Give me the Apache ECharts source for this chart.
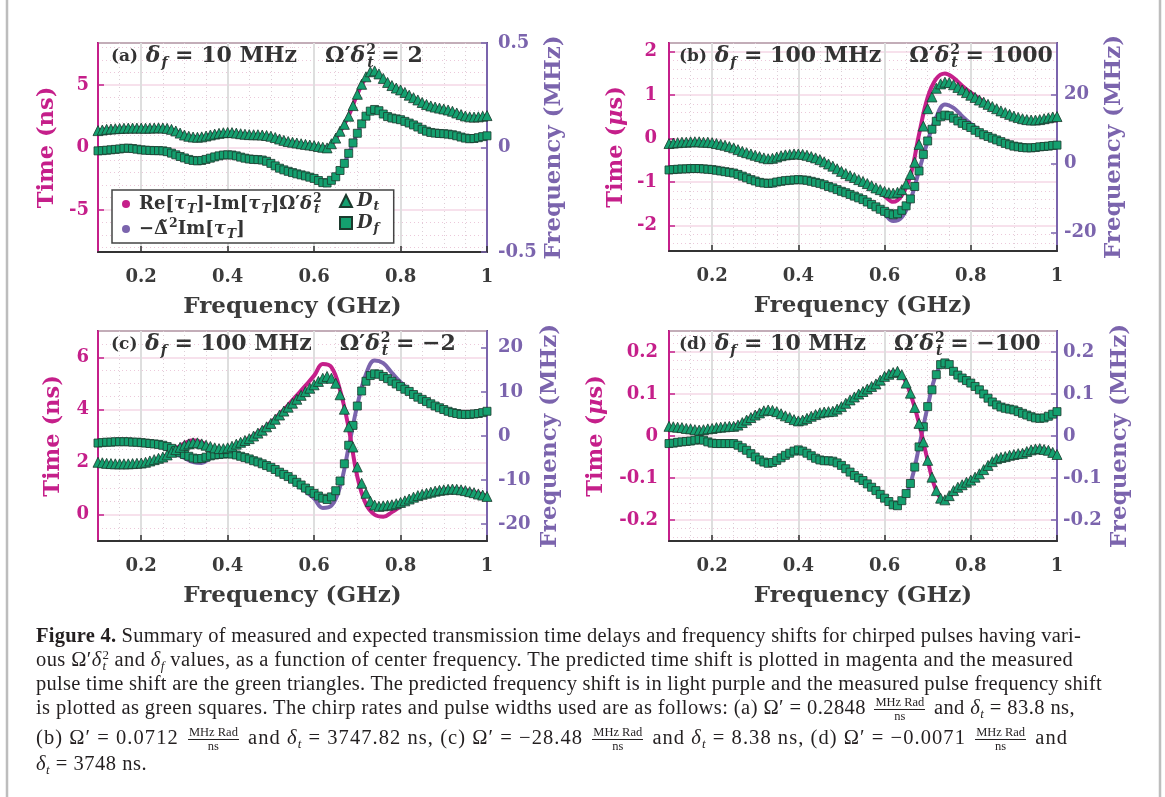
<!DOCTYPE html>
<html><head><meta charset="utf-8">
<script src="https://cdn.jsdelivr.net/npm/echarts@6/dist/echarts.min.js"></script>
<style>
html,body{margin:0;padding:0;background:#fff;}
#wrap{position:relative;width:1165px;height:797px;overflow:hidden;}
#chart{position:absolute;left:0;top:0;width:1165px;height:797px;}
#cap{position:absolute;left:0;top:0;width:1165px;font-family:'Liberation Serif',serif;font-size:20.5px;color:#231f20;}
.ln{position:absolute;left:36px;white-space:nowrap;line-height:22px;}
.frac{display:inline-block;vertical-align:middle;text-align:center;font-size:12.5px;line-height:13px;margin:0 3px;word-spacing:0;letter-spacing:0;}
.frac span{display:block;padding:0 1px;}
.frac .n{border-bottom:1px solid #231f20;}
.ss{display:inline-flex;flex-direction:column;vertical-align:7px;font-size:13px;line-height:11px;margin-left:1px;letter-spacing:0;}
sub{font-size:13px;line-height:0;vertical-align:-4px;}
</style></head>
<body>
<div id="wrap">
<div id="chart"></div>
<div id="cap">
<div class="ln" data-w="1045" style="top:624px"><b>Figure 4.</b> Summary of measured and expected transmission time delays and frequency shifts for chirped pulses having vari-</div>
<div class="ln" data-w="1037" style="top:648px">ous Ω′<i>δ</i><span class="ss"><span>2</span><span><i>t</i></span></span> and <i>δ</i><sub><i>f</i></sub> values, as a function of center frequency. The predicted time shift is plotted in magenta and the measured</div>
<div class="ln" data-w="1066" style="top:672px">pulse time shift are the green triangles. The predicted frequency shift is in light purple and the measured pulse frequency shift</div>
<div class="ln" data-w="1039" style="top:696px">is plotted as green squares. The chirp rates and pulse widths used are as follows: (a) Ω′ = 0.2848 <span class="frac"><span class="n">MHz Rad</span><span class="d">ns</span></span> and <i>δ</i><sub><i>t</i></sub> = 83.8 ns,</div>
<div class="ln" data-w="1032" style="top:726px">(b) Ω′ = 0.0712 <span class="frac"><span class="n">MHz Rad</span><span class="d">ns</span></span> and <i>δ</i><sub><i>t</i></sub> = 3747.82 ns, (c) Ω′ = −28.48 <span class="frac"><span class="n">MHz Rad</span><span class="d">ns</span></span> and <i>δ</i><sub><i>t</i></sub> = 8.38 ns, (d) Ω′ = −0.0071 <span class="frac"><span class="n">MHz Rad</span><span class="d">ns</span></span> and</div>
<div class="ln" data-w="111" style="top:752px"><i>δ</i><sub><i>t</i></sub> = 3748 ns.</div>
</div>
</div>
<script>
// ---------- data ----------
const FREQ_MARK = [0.10,0.11,0.12,0.13,0.14,0.15,0.16,0.17,0.18,0.19,
0.20,0.21,0.22,0.23,0.24,0.25,0.26,0.27,0.28,0.29,
0.30,0.31,0.32,0.33,0.34,0.35,0.36,0.37,0.38,0.39,
0.40,0.41,0.42,0.43,0.44,0.45,0.46,0.47,0.48,0.49,
0.50,0.51,0.52,0.53,0.54,0.55,0.56,0.57,0.58,0.59,
0.60,0.61,0.62,0.63,0.64,0.65,0.66,0.67,0.68,0.69,
0.70,0.71,0.72,0.73,0.74,0.75,0.76,0.77,0.78,0.79,
0.80,0.81,0.82,0.83,0.84,0.85,0.86,0.87,0.88,0.89,
0.90,0.91,0.92,0.93,0.94,0.95,0.96,0.97,0.98,0.99,1.00];
const FREQ_LINE = [0.10,0.12,0.14,0.16,0.18,0.20,0.22,0.24,0.26,0.28,
0.30,0.32,0.34,0.36,0.38,0.40,0.42,0.44,0.46,0.48,
0.50,0.52,0.54,0.56,0.58,0.60,0.62,0.64,0.66,0.68,
0.70,0.72,0.74,0.76,0.78,0.80,0.82,0.84,0.86,0.88,
0.90,0.92,0.94,0.96,0.98,1.00];

// panel (a)
const A_TRI = [1.35,1.40,1.45,1.48,1.50,1.52,1.54,1.55,1.55,1.55,
1.55,1.54,1.55,1.56,1.57,1.56,1.53,1.45,1.32,1.15,
1.00,0.90,0.84,0.82,0.85,0.92,1.00,1.07,1.13,1.18,
1.20,1.19,1.15,1.10,1.06,1.03,1.02,1.02,1.00,0.96,
0.90,0.80,0.68,0.57,0.48,0.42,0.36,0.30,0.25,0.20,
0.15,0.08,0.02,-0.03,0.30,0.75,1.30,1.85,2.50,3.35,
4.25,5.05,5.65,6.05,6.12,5.88,5.52,5.20,4.95,4.75,
4.60,4.40,4.18,3.98,3.80,3.60,3.44,3.32,3.23,3.15,
3.08,3.00,2.90,2.76,2.63,2.52,2.45,2.43,2.45,2.50,2.55];
const A_SQR = [-0.016,-0.015,-0.013,-0.011,-0.009,-0.007,-0.004,-0.003,-0.005,-0.008,
-0.011,-0.013,-0.014,-0.015,-0.015,-0.016,-0.020,-0.027,-0.035,-0.043,
-0.050,-0.057,-0.062,-0.064,-0.062,-0.057,-0.051,-0.045,-0.040,-0.036,
-0.035,-0.036,-0.040,-0.046,-0.051,-0.055,-0.057,-0.058,-0.060,-0.066,
-0.076,-0.088,-0.099,-0.107,-0.114,-0.120,-0.126,-0.131,-0.136,-0.142,
-0.148,-0.158,-0.168,-0.170,-0.157,-0.140,-0.110,-0.076,-0.028,0.022,
0.068,0.113,0.150,0.174,0.182,0.176,0.160,0.148,0.141,0.137,
0.133,0.125,0.117,0.108,0.098,0.087,0.078,0.072,0.069,0.067,
0.066,0.064,0.061,0.056,0.050,0.045,0.042,0.043,0.047,0.052,0.056];
const A_MAG = [1.35,1.45,1.50,1.53,1.54,1.54,1.54,1.55,1.50,1.30,
1.00,0.83,0.85,1.00,1.12,1.18,1.14,1.05,1.00,0.98,
0.88,0.68,0.48,0.36,0.25,0.14,0.00,0.25,1.25,2.55,
4.25,5.55,5.95,5.45,4.90,4.55,4.15,3.75,3.40,3.20,
3.05,2.85,2.60,2.42,2.42,2.52];
const A_PUR = [-0.016,-0.013,-0.009,-0.005,-0.006,-0.011,-0.014,-0.015,-0.020,-0.035,
-0.050,-0.062,-0.062,-0.051,-0.040,-0.035,-0.040,-0.050,-0.057,-0.061,
-0.076,-0.099,-0.114,-0.126,-0.136,-0.150,-0.170,-0.160,-0.112,-0.030,
0.068,0.150,0.182,0.160,0.141,0.132,0.116,0.097,0.078,0.069,
0.066,0.061,0.050,0.042,0.046,0.055];

// panel (b)
const B_TRI = [-0.11,-0.10,-0.09,-0.08,-0.08,-0.07,-0.07,-0.07,-0.08,-0.08,
-0.09,-0.11,-0.13,-0.15,-0.18,-0.21,-0.25,-0.29,-0.32,-0.35,
-0.38,-0.41,-0.44,-0.46,-0.45,-0.42,-0.39,-0.37,-0.36,-0.35,
-0.35,-0.36,-0.38,-0.41,-0.44,-0.48,-0.53,-0.58,-0.63,-0.69,
-0.75,-0.80,-0.85,-0.89,-0.94,-0.98,-1.03,-1.08,-1.13,-1.17,
-1.21,-1.24,-1.25,-1.23,-1.17,-1.04,-0.82,-0.54,-0.13,0.29,
0.69,0.96,1.16,1.26,1.30,1.29,1.24,1.18,1.12,1.06,
1.00,0.95,0.89,0.84,0.79,0.74,0.69,0.64,0.60,0.56,
0.52,0.49,0.46,0.44,0.43,0.43,0.44,0.46,0.48,0.50,0.51];
const B_SQR = [-1.8,-1.7,-1.6,-1.5,-1.5,-1.4,-1.4,-1.4,-1.5,-1.6,
-1.7,-1.9,-2.1,-2.3,-2.5,-2.7,-3.1,-3.6,-4.1,-4.6,
-5.0,-5.4,-5.6,-5.7,-5.6,-5.3,-5.1,-4.9,-4.8,-4.7,
-4.6,-4.7,-4.8,-5.1,-5.4,-5.7,-6.1,-6.6,-7.0,-7.5,
-8.0,-8.4,-8.9,-9.4,-9.9,-10.4,-11.1,-11.8,-12.5,-13.2,
-13.8,-14.4,-14.8,-14.5,-13.5,-12.2,-10.2,-6.6,-2.1,2.7,
6.6,10.0,12.3,13.6,14.1,13.9,13.2,12.4,11.7,11.1,
10.5,9.7,9.0,8.4,7.9,7.4,6.9,6.4,5.9,5.5,
5.1,4.9,4.7,4.6,4.6,4.7,4.9,5.0,5.1,5.3,5.4];
const B_MAG = [-0.11,-0.09,-0.08,-0.07,-0.08,-0.10,-0.13,-0.19,-0.26,-0.34,
-0.41,-0.48,-0.50,-0.42,-0.37,-0.35,-0.38,-0.44,-0.53,-0.64,
-0.76,-0.86,-0.96,-1.06,-1.18,-1.32,-1.45,-1.30,-0.85,0.10,
0.95,1.38,1.50,1.40,1.22,1.06,0.92,0.79,0.67,0.56,
0.47,0.41,0.38,0.38,0.40,0.43];
const B_PUR = [-1.8,-1.6,-1.5,-1.4,-1.5,-1.7,-2.1,-2.6,-3.2,-4.2,
-5.1,-5.9,-6.3,-5.3,-4.8,-4.6,-4.8,-5.4,-6.1,-7.0,
-8.0,-9.0,-10.0,-11.3,-12.8,-14.6,-16.6,-15.5,-10.5,-2.0,
6.5,13.5,17.2,16.2,13.8,11.6,9.7,8.1,6.8,5.8,
4.9,4.4,4.2,4.3,4.7,5.1];

// panel (c)
const C_TRI = [2.00,1.98,1.96,1.95,1.94,1.94,1.94,1.94,1.95,1.96,
1.97,2.00,2.05,2.10,2.15,2.20,2.28,2.38,2.48,2.57,
2.65,2.70,2.74,2.74,2.70,2.65,2.60,2.55,2.52,2.52,
2.55,2.61,2.69,2.76,2.83,2.90,3.00,3.11,3.22,3.35,
3.48,3.64,3.80,3.95,4.10,4.25,4.40,4.55,4.69,4.82,
4.95,5.08,5.20,5.27,5.20,5.01,4.57,4.02,3.35,2.58,
1.82,1.20,0.82,0.51,0.37,0.32,0.34,0.36,0.38,0.42,
0.47,0.53,0.60,0.67,0.73,0.78,0.82,0.86,0.90,0.93,
0.95,0.97,0.98,0.97,0.95,0.92,0.88,0.84,0.79,0.75,0.70];
const C_SQR = [-1.6,-1.5,-1.4,-1.4,-1.3,-1.3,-1.3,-1.3,-1.4,-1.4,
-1.5,-1.6,-1.7,-1.8,-1.9,-2.1,-2.4,-2.8,-3.3,-3.8,
-4.2,-4.6,-5.0,-5.2,-5.1,-4.8,-4.5,-4.3,-4.2,-4.1,
-4.0,-4.1,-4.3,-4.6,-4.9,-5.2,-5.6,-5.9,-6.3,-6.7,
-7.1,-7.6,-8.2,-8.7,-9.2,-9.8,-10.5,-11.1,-11.8,-12.4,
-13.0,-13.6,-14.1,-14.4,-13.8,-12.4,-10.2,-6.3,-2.1,2.4,
6.8,10.2,12.4,13.7,14.1,14.0,13.5,13.0,12.4,11.8,
11.2,10.6,10.1,9.4,8.8,8.3,7.8,7.3,6.8,6.4,
6.0,5.6,5.3,5.1,4.9,4.9,4.9,5.0,5.1,5.3,5.6];
const C_MAG = [1.98,1.93,1.89,1.87,1.87,1.90,1.98,2.10,2.28,2.52,
2.72,2.84,2.76,2.58,2.48,2.52,2.66,2.82,3.02,3.25,
3.52,3.84,4.18,4.55,4.92,5.30,5.74,5.62,4.75,3.30,
1.45,0.40,0.00,-0.08,0.10,0.32,0.52,0.68,0.80,0.90,
0.96,0.99,0.97,0.91,0.82,0.72];
const C_PUR = [-1.6,-1.4,-1.3,-1.3,-1.4,-1.6,-1.9,-2.3,-3.0,-4.0,
-5.0,-5.9,-6.1,-5.0,-4.4,-4.1,-4.3,-5.0,-5.7,-6.5,
-7.4,-8.5,-9.7,-11.0,-12.5,-14.2,-16.3,-15.8,-11.5,-2.5,
7.0,14.0,17.1,16.5,14.3,12.2,10.4,8.9,7.6,6.5,
5.6,5.0,4.6,4.5,4.7,5.2];

// panel (d)
const D_TRI = [0.023,0.022,0.021,0.020,0.018,0.017,0.015,0.014,0.015,0.017,
0.018,0.020,0.021,0.022,0.023,0.023,0.026,0.032,0.038,0.044,
0.050,0.055,0.060,0.062,0.061,0.058,0.053,0.048,0.044,0.039,
0.036,0.038,0.042,0.047,0.051,0.055,0.057,0.058,0.059,0.064,
0.070,0.078,0.086,0.093,0.100,0.106,0.112,0.118,0.124,0.133,
0.142,0.147,0.151,0.154,0.146,0.126,0.102,0.068,0.030,-0.014,
-0.058,-0.098,-0.130,-0.148,-0.152,-0.142,-0.130,-0.122,-0.116,-0.110,
-0.105,-0.098,-0.090,-0.080,-0.070,-0.061,-0.054,-0.051,-0.049,-0.046,
-0.044,-0.042,-0.041,-0.037,-0.033,-0.031,-0.030,-0.032,-0.034,-0.039,-0.044];
const D_SQR = [-0.018,-0.017,-0.015,-0.014,-0.013,-0.012,-0.010,-0.008,-0.010,-0.014,
-0.017,-0.018,-0.018,-0.018,-0.018,-0.018,-0.022,-0.028,-0.034,-0.042,
-0.050,-0.057,-0.062,-0.065,-0.063,-0.058,-0.052,-0.046,-0.041,-0.036,
-0.033,-0.036,-0.041,-0.047,-0.053,-0.057,-0.059,-0.059,-0.060,-0.064,
-0.070,-0.078,-0.086,-0.094,-0.100,-0.106,-0.114,-0.122,-0.130,-0.139,
-0.148,-0.156,-0.164,-0.166,-0.154,-0.137,-0.113,-0.074,-0.026,0.022,
0.070,0.110,0.146,0.170,0.174,0.170,0.154,0.145,0.138,0.132,
0.126,0.118,0.110,0.100,0.090,0.081,0.074,0.069,0.066,0.064,
0.062,0.058,0.054,0.050,0.046,0.043,0.042,0.043,0.047,0.052,0.058];
const D_MAG = [0.020,0.016,0.012,0.010,0.011,0.015,0.019,0.022,0.027,0.038,
0.050,0.060,0.060,0.052,0.043,0.037,0.042,0.050,0.056,0.059,
0.068,0.085,0.099,0.111,0.124,0.140,0.153,0.145,0.100,0.030,
-0.058,-0.130,-0.154,-0.135,-0.120,-0.108,-0.092,-0.072,-0.056,-0.049,
-0.044,-0.040,-0.033,-0.030,-0.034,-0.044];
const D_PUR = [-0.018,-0.015,-0.013,-0.010,-0.010,-0.016,-0.018,-0.018,-0.022,-0.034,
-0.050,-0.062,-0.063,-0.052,-0.041,-0.034,-0.041,-0.053,-0.059,-0.061,
-0.072,-0.088,-0.102,-0.116,-0.132,-0.150,-0.165,-0.156,-0.113,-0.026,
0.070,0.148,0.176,0.158,0.138,0.125,0.109,0.090,0.074,0.066,
0.062,0.054,0.046,0.042,0.046,0.056];

// axis ranges and labels
const LEFT_RANGE  = [[-8.35, 8.35], [-2.58, 2.2], [-1, 7], [-0.25, 0.25]];
const RIGHT_RANGE = [[-0.5, 0.5], [-25.3, 35], [-23.8, 23.8], [-0.25, 0.25]];
const LEFT_NAMES  = ['Time (ns)', 'Time ({i|μ}s)', 'Time (ns)', 'Time ({i|μ}s)'];
const RIGHT_NAME  = 'Frequency (MHz)';
const X_NAME      = 'Frequency (GHz)';
const PANEL_TITLES = [
  '{p|(a)} {it|δ}{sub|f}{m| = 10 MHz}{gap| }{m|Ω′}{it|δ}{sup|2}{sub|t}{m| = 2}',
  '{p|(b)} {it|δ}{sub|f}{m| = 100 MHz}{gap| }{m|Ω′}{it|δ}{sup|2}{sub|t}{m| = 1000}',
  '{p|(c)} {it|δ}{sub|f}{m| = 100 MHz}{gap| }{m|Ω′}{it|δ}{sup|2}{sub|t}{m| = −2}',
  '{p|(d)} {it|δ}{sub|f}{m| = 10 MHz}{gap| }{m|Ω′}{it|δ}{sup|2}{sub|t}{m| = −100}'
];
const LEGEND_TEXT = {
  Re_0: '{m|Re[}{it|τ}{sub|T}{m|]-Im[}{it|τ}{sub|T}{m|]Ω′}{it|δ}{sup|2}{sub|t}',
  Im_0: '{m|−Δ̃}{sup2|2}{m|Im[}{it|τ}{sub|T}{m|]}',
  Dt_0: '{it|D}{sub|t}',
  Df_0: '{it|D}{sub|f}'
};
const PANELS = [
  {mag: A_MAG, pur: A_PUR, tri: A_TRI, sqr: A_SQR},
  {mag: B_MAG, pur: B_PUR, tri: B_TRI, sqr: B_SQR},
  {mag: C_MAG, pur: C_PUR, tri: C_TRI, sqr: C_SQR},
  {mag: D_MAG, pur: D_PUR, tri: D_TRI, sqr: D_SQR}
];

// ---------- layout / style ----------
const FONT = 'DejaVu Serif';
const MAG = '#c51f8a', PUR = '#7b64ad', GRN = '#14a06f', EDGE = '#1c3a2d', INK = '#3b3b3b';
const GRIDS = [
  {left: 98,  top: 43,  width: 389, height: 209},
  {left: 669, top: 43,  width: 388, height: 208},
  {left: 98,  top: 331, width: 389, height: 210},
  {left: 669, top: 331, width: 388, height: 210}
];
const LEFT_SPLIT = [3, 5, 4, 5], LEFT_MINOR = [5, 5, 4, 5], RIGHT_SPLIT = [2, 3, 4, 5];
const LEFT_GAP = [39, 41, 33, 61], RIGHT_GAP = [56, 46, 52, 52];
const LEFT_MARGIN = [9, 12, 9, 11], RIGHT_MARGIN = [11, 7, 11, 6];
const TITLE_DX = [13, 10, 13, 10];

const bold = {fontFamily: FONT, fontWeight: 'bold'};

function xAxisFor(i) {
  return {
    type: 'value', gridIndex: i, min: 0.1, max: 1, splitNumber: 5,
    axisLine: {show: true, onZero: false, lineStyle: {color: '#333', width: 2}},
    axisTick: {show: true, inside: true, length: 6, lineStyle: {color: '#333', width: 1.5}},
    axisLabel: Object.assign({color: INK, fontSize: 18, margin: 16, showMinLabel: false}, bold),
    splitLine: {show: true, lineStyle: {color: '#dedede', width: 2}},
    minorTick: {show: false, splitNumber: 4},
    minorSplitLine: {show: true, lineStyle: {color: '#dccfd6', width: 1, type: [1, 3]}},
    name: X_NAME, nameLocation: 'middle', nameGap: 44,
    nameTextStyle: Object.assign({color: INK, fontSize: 23}, bold)
  };
}
function leftAxis(i) {
  return {
    type: 'value', gridIndex: i, position: 'left',
    min: LEFT_RANGE[i][0], max: LEFT_RANGE[i][1], splitNumber: LEFT_SPLIT[i],
    axisLine: {show: true, onZero: false, lineStyle: {color: MAG, width: 2}},
    axisTick: {show: true, inside: true, length: 6, lineStyle: {color: MAG, width: 1.5}},
    axisLabel: Object.assign({color: MAG, fontSize: 18, margin: LEFT_MARGIN[i], showMinLabel: false, showMaxLabel: false}, bold),
    splitLine: {show: true, lineStyle: {color: '#f5d7e6', width: 1.5}},
    minorTick: {show: false, splitNumber: LEFT_MINOR[i]},
    minorSplitLine: {show: true, lineStyle: {color: '#ecc8da', width: 1, type: [1, 3]}},
    name: LEFT_NAMES[i], nameLocation: 'middle', nameGap: LEFT_GAP[i],
    nameTextStyle: Object.assign({color: MAG, fontSize: 22.5, rich: {i: Object.assign({fontStyle: 'italic', color: MAG, fontSize: 22.5}, bold)}}, bold)
  };
}
function rightAxis(i) {
  const edge = i === 0;
  return {
    type: 'value', gridIndex: i, position: 'right',
    min: RIGHT_RANGE[i][0], max: RIGHT_RANGE[i][1], splitNumber: RIGHT_SPLIT[i],
    axisLine: {show: true, onZero: false, lineStyle: {color: PUR, width: 2}},
    axisTick: {show: true, inside: true, length: 6, lineStyle: {color: PUR, width: 1.5}},
    axisLabel: Object.assign({color: PUR, fontSize: 18, margin: RIGHT_MARGIN[i], showMinLabel: edge, showMaxLabel: edge}, bold),
    splitLine: {show: false},
    name: RIGHT_NAME, nameLocation: 'middle', nameGap: RIGHT_GAP[i],
    nameTextStyle: Object.assign({color: PUR, fontSize: 23}, bold)
  };
}

const TRICH = {
  p: {fontSize: 17, fontWeight: 'bold', fontFamily: FONT},
  m: {fontSize: 22, fontWeight: 'bold', fontFamily: FONT},
  it: {fontSize: 22, fontWeight: 'bold', fontStyle: 'italic', fontFamily: FONT},
  sub: {fontSize: 14, fontWeight: 'bold', fontStyle: 'italic', fontFamily: FONT, padding: [13, 0, 0, 1]},
  sup: {fontSize: 14, fontWeight: 'bold', fontFamily: FONT, padding: [0, 0, 13, 1], width: 0.01},
  gap: {fontSize: 22, width: 28}
};
const LRICH = {
  m: {fontSize: 18, fontWeight: 'bold', fontFamily: FONT, color: '#333'},
  it: {fontSize: 18, fontWeight: 'bold', fontStyle: 'italic', fontFamily: FONT, color: '#333'},
  sub: {fontSize: 12.5, fontWeight: 'bold', fontStyle: 'italic', fontFamily: FONT, color: '#333', padding: [11, 0, 0, 1]},
  sup: {fontSize: 12.5, fontWeight: 'bold', fontFamily: FONT, color: '#333', padding: [0, 0, 11, 1], width: 0.01},
  sup2: {fontSize: 12.5, fontWeight: 'bold', fontFamily: FONT, color: '#333', padding: [0, 0, 11, 1]}
};

const series = [];
PANELS.forEach((P, i) => {
  series.push({
    type: 'line', name: 'Im_' + i, xAxisIndex: i, yAxisIndex: 2 * i + 1,
    data: FREQ_LINE.map((f, k) => [f, P.pur[k]]), smooth: 0.4, symbol: 'none',
    lineStyle: {color: PUR, width: 4}, itemStyle: {color: PUR, borderWidth: 0}, z: 2, silent: true
  });
  series.push({
    type: 'line', name: 'Re_' + i, xAxisIndex: i, yAxisIndex: 2 * i,
    data: FREQ_LINE.map((f, k) => [f, P.mag[k]]), smooth: 0.4, symbol: 'none',
    lineStyle: {color: MAG, width: 4}, itemStyle: {color: MAG, borderWidth: 0}, z: 2, silent: true
  });
  series.push({
    type: 'scatter', name: 'Df_' + i, xAxisIndex: i, yAxisIndex: 2 * i + 1,
    data: FREQ_MARK.map((f, k) => [f, P.sqr[k]]), symbol: 'rect', symbolSize: 8,
    itemStyle: {color: GRN, borderColor: EDGE, borderWidth: 0.8, opacity: 1}, z: 3, silent: true
  });
  series.push({
    type: 'scatter', name: 'Dt_' + i, xAxisIndex: i, yAxisIndex: 2 * i,
    data: FREQ_MARK.map((f, k) => [f, P.tri[k]]), symbol: 'triangle', symbolSize: 10,
    itemStyle: {color: GRN, borderColor: EDGE, borderWidth: 0.8, opacity: 1}, z: 3, silent: true
  });
});

const option = {
  animation: false,
  backgroundColor: '#fff',
  grid: GRIDS.map(g => Object.assign({}, g, {show: true, borderColor: '#333', borderWidth: 2, backgroundColor: 'transparent', containLabel: false, outerBoundsMode: 'none'})),
  xAxis: GRIDS.map((g, i) => xAxisFor(i)),
  yAxis: [].concat(...GRIDS.map((g, i) => [leftAxis(i), rightAxis(i)])),
  title: PANEL_TITLES.map((t, i) => ({
    text: t, left: GRIDS[i].left + TITLE_DX[i], top: GRIDS[i].top, padding: 0,
    textStyle: {color: '#333', fontFamily: FONT, fontWeight: 'bold', fontSize: 22, rich: TRICH}
  })),
  legend: [
    {
      data: [{name: 'Re_0', icon: 'circle'}, {name: 'Im_0', icon: 'circle'}],
      left: 112, top: 190, orient: 'vertical', itemGap: 1, itemWidth: 8, itemHeight: 8,
      padding: [2, 72, 2, 10], backgroundColor: '#fff', borderColor: '#444', borderWidth: 1.5,
      selectedMode: false, z: 10,
      formatter: n => LEGEND_TEXT[n], textStyle: {fontFamily: FONT, fontWeight: 'bold', fontSize: 18, color: '#333', rich: LRICH, padding: [0, 0, 0, 4]}
    },
    {
      data: [{name: 'Dt_0', icon: 'triangle'}, {name: 'Df_0', icon: 'rect'}],
      left: 339, top: 190, orient: 'vertical', itemGap: 1, itemWidth: 12, itemHeight: 12,
      padding: [2, 0, 2, 0], selectedMode: false, z: 11,
      formatter: n => LEGEND_TEXT[n], textStyle: {fontFamily: FONT, fontWeight: 'bold', fontSize: 18, color: '#333', rich: LRICH}
    }
  ],
  graphic: [
    {type: 'rect', silent: true, shape: {x: 7, y: -5, width: 1153, height: 810}, style: {fill: 'none', stroke: '#bdbdbd', lineWidth: 2.5}}
  ],
  series: series
};

const chart = echarts.init(document.getElementById('chart'), null, {renderer: 'canvas'});
chart.setOption(option);

// caption: fit each line to its measured width through letter spacing
document.querySelectorAll('.ln').forEach(el => {
  const target = +el.dataset.w;
  if (!target) return;
  const w = el.getBoundingClientRect().width;
  const clone = el.cloneNode(true);
  clone.querySelectorAll('.frac,.ss').forEach(f => f.remove());
  const n = clone.textContent.length;
  if (n > 0) {
    const ls = Math.max(-0.6, Math.min(1.2, (target - w) / n));
    el.style.letterSpacing = ls.toFixed(3) + 'px';
  }
});
</script>
</body></html>
